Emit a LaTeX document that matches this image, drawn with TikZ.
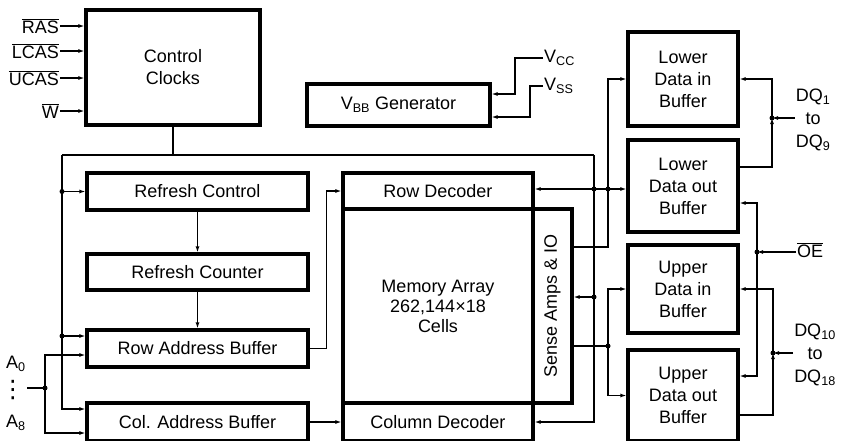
\documentclass[tikz,border=0pt]{standalone}
\usepackage{fontspec}
\setmainfont{Liberation Sans}
\newfontfamily\symfont{DejaVu Sans}
\usetikzlibrary{arrows.meta}
\newcommand{\actlow}[1]{$\overline{\mbox{#1}}$}

\begin{document}
\begin{tikzpicture}[x=1pt,y=-1pt]
	\tikzstyle{block} = [draw, line width=3.2pt, inner sep=0pt, align=center, font=\fontsize{18}{22}\selectfont]
	\tikzstyle{wire} = [line width=1.4pt]
	\tikzstyle{sig} = [wire, -{Latex[length=6pt,width=4pt]}]
	\tikzstyle{pinlabel} = [inner sep=1pt, align=center, font=\fontsize{18}{23}\selectfont]
	\tikzstyle{junction} = [circle, fill, inner sep=0pt, minimum size=5pt]

	\useasboundingbox (0,0) rectangle (846,440);

	% Define blocks
	\node[block, minimum width=174pt, minimum height=115pt] (clocks) at (173,67.5) {Control\\Clocks};
	\node[block, minimum width=183pt, minimum height=42pt] (vbb) at (398.5,105) {V\textsubscript{BB} Generator};
	\node[block, minimum width=221pt, minimum height=37pt] (refctl) at (197.5,191.5) {Refresh Control};
	\node[block, minimum width=221pt, minimum height=36pt] (refcnt) at (197.5,272) {Refresh Counter};
	\node[block, minimum width=221pt, minimum height=37pt] (rowbuf) at (197.5,348.5) {Row Address Buffer};
	\node[block, minimum width=221pt, minimum height=38pt] (colbuf) at (197.5,422) {Col. Address Buffer};
	\node[block, minimum width=190pt, minimum height=36pt] (rowdec) at (438,191) {Row Decoder};
	\node[block, minimum width=190pt, minimum height=194pt, font=\fontsize{18}{20}\selectfont] (memarr) at (438,306) {Memory Array\\262,144×18\\Cells};
	\node[block, minimum width=39pt, minimum height=194pt] (sense) at (552.5,306) {};
	\node[rotate=90, font=\fontsize{18}{22}\selectfont] at (sense.center) {Sense Amps \& IO};
	\node[block, minimum width=190pt, minimum height=38pt] (coldec) at (438,422) {Column Decoder};
	\node[block, minimum width=110pt, minimum height=94pt] (ldin) at (683,79) {Lower\\Data in\\Buffer};
	\node[block, minimum width=110pt, minimum height=92pt] (ldout) at (683,186) {Lower\\Data out\\Buffer};
	\node[block, minimum width=110pt, minimum height=88pt] (udin) at (683,289) {Upper\\Data in\\Buffer};
	\node[block, minimum width=110pt, minimum height=91pt] (udout) at (683,395.5) {Upper\\Data out\\Buffer};

	% Pin labels
	\node[pinlabel, anchor=east] (ras) at (60,26) {\actlow{RAS}};
	\node[pinlabel, anchor=east] (lcas) at (60,51) {\actlow{LCAS}};
	\node[pinlabel, anchor=east] (ucas) at (60,78) {\actlow{UCAS}};
	\node[pinlabel, anchor=east] (wr) at (60,111) {\actlow{W}};
	\node[pinlabel] (a0) at (16,364) {A\textsubscript{0}};
	\node[pinlabel, font=\fontsize{24}{24}\symfont] (adots) at (13,390) {⋮};
	\node[pinlabel] (a8) at (16,423) {A\textsubscript{8}};
	\node[pinlabel, anchor=west] (vcc) at (543,58) {V\textsubscript{CC}};
	\node[pinlabel, anchor=west] (vss) at (543,86) {V\textsubscript{SS}};
	\node[pinlabel] (dqlo) at (813,120) {DQ\textsubscript{1}\\to\\DQ\textsubscript{9}};
	\node[pinlabel, anchor=west] (oe) at (796,250) {\actlow{OE}};
	\node[pinlabel] (dqhi) at (815,355) {DQ\textsubscript{10}\\to\\DQ\textsubscript{18}};

	% Junction points
	\coordinate (busL) at (62,155);
	\coordinate (busR) at (594,155);
	\coordinate (jRC) at (62,191.5);
	\coordinate (jRB) at (62,336);
	\coordinate (jA) at (45,388);
	\coordinate (jRD) at (594,189);
	\coordinate (jLO) at (608,189);
	\coordinate (jSC) at (594,297);
	\coordinate (lbus) at (608,247);
	\coordinate (ubus) at (608,346);
	\coordinate (jDQlo) at (772,118);
	\coordinate (jOE) at (757,252);
	\coordinate (jDQhi) at (773,353);
	\coordinate (kcc) at (515,58);
	\coordinate (kss) at (530,86);

	% Control clock inputs
	\draw[sig] (ras.east) -- (ras.east -| clocks.west);
	\draw[sig] (lcas.east) -- (lcas.east -| clocks.west);
	\draw[sig] (ucas.east) -- (ucas.east -| clocks.west);
	\draw[sig] (wr.east) -- (wr.east -| clocks.west);

	% Clock bus
	\draw[wire] (clocks.south) -- (clocks.south |- busL);
	\draw[wire] (busL) -- (busR);
	\draw[sig] (busL) |- ([yshift=13pt]colbuf.west);
	\draw[sig] (jRC) -- (jRC -| refctl.west);
	\draw[sig] (jRB) -- (jRB -| rowbuf.west);
	\draw[sig] (busR) |- (coldec.east);
	\draw[sig] (jRD) -- (jRD -| rowdec.east);
	\draw[sig] (jSC) -- (jSC -| sense.east);

	% Refresh and address path
	\draw[sig] (refctl) -- (refcnt);
	\draw[sig] (refcnt) -- (rowbuf);
	\draw[sig] (rowbuf.east) -- ++(17,0) |- (rowdec.west);
	\draw[sig] (colbuf.east) -- (coldec.west);
	\draw[wire] (27,388) -- (jA);
	\draw[sig] (jA) |- ([yshift=-6.5pt]rowbuf.west);
	\draw[sig] (jA) |- ([yshift=-11pt]colbuf.west);

	% Data path
	\draw[sig] (lbus -| sense.east) -- (lbus) |- (ldin.west);
	\draw[sig] (jRD) -- (jRD -| ldout.west);
	\draw[wire] (ubus -| sense.east) -- (ubus);
	\draw[sig] (ubus) |- (udin.west);
	\draw[sig] (ubus) |- (udout.west);

	% Data pins and output enable
	\draw[sig] (jDQlo) |- (ldin.east);
	\draw[sig] ([yshift=19pt]ldout.east) -| (jDQlo);
	\draw[sig] (jDQlo -| dqlo.west) -- (jDQlo);
	\draw[sig] (jOE) |- ([yshift=-17pt]ldout.east);
	\draw[sig] (jOE) |- ([yshift=19.5pt]udout.east);
	\draw[sig] (jOE -| oe.west) -- (jOE);
	\draw[sig] (jDQhi) |- (udin.east);
	\draw[sig] ([yshift=-19.5pt]udout.east) -| (jDQhi);
	\draw[sig] (jDQhi -| dqhi.west) -- (jDQhi);

	% Supply pins
	\draw[sig] (vcc.west) -- (kcc) |- ([yshift=11pt]vbb.east);
	\draw[sig] (vss.west) -- (kss) |- ([yshift=-12pt]vbb.east);

	% Junction dots
	\foreach \j in {jRC, jRB, jA, jRD, jLO, jSC, ubus, jDQlo, jOE, jDQhi}
		\node[junction] at (\j) {};
\end{tikzpicture}
\end{document}
